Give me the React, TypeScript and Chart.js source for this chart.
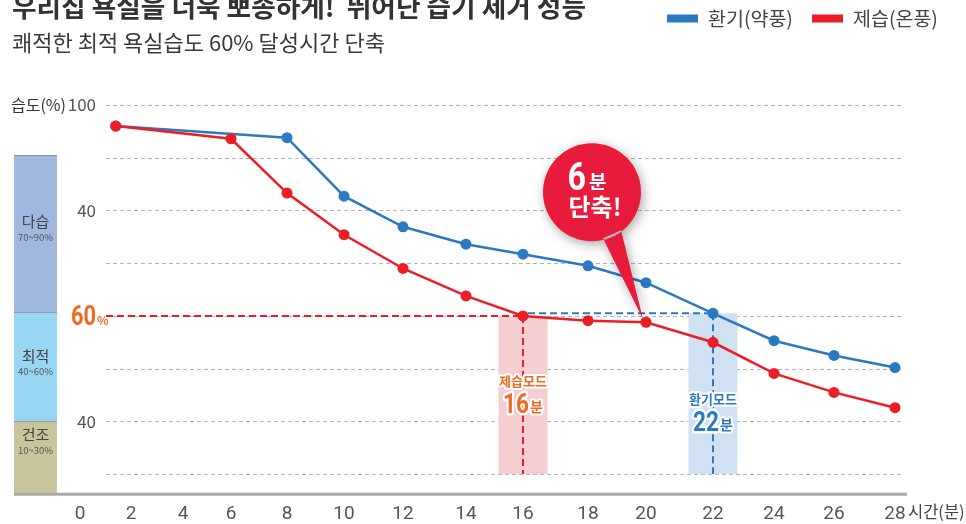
import React, { useEffect, useRef } from 'react';
import { Chart, registerables, LinearScale } from 'chart.js';

// ---------- data ----------
const seriesLabels = ['환기(약풍)', '제습(온풍)'];
const minutesBlue = [1.4, 8, 10, 12, 14, 16, 18, 20, 22, 24, 26, 28];
const humidityBlue = [96.0, 93.8, 82.7, 76.9, 73.6, 71.7, 69.5, 66.3, 60.5, 55.3, 52.5, 50.2];
const minutesRed = [1.4, 6, 8, 10, 12, 14, 16, 18, 20, 22, 24, 26, 28];
const humidityRed = [96.0, 93.6, 83.3, 75.4, 69.0, 63.8, 60.0, 59.1, 58.8, 55.0, 49.1, 45.5, 42.6];

const xTickValues = [0, 2, 4, 6, 8, 10, 12, 14, 16, 18, 20, 22, 24, 26, 28];
const yGridValues = [100, 90, 80, 70, 60, 50, 40, 30];
const yLabelValues = [100, 80, 40];
const yLabelTexts = ['100', '40', '40'];
const targetHumidity = 60;
const boxBottomValue = 30;
const yMin = 26;
const yMax = 100;

const bandNames = ['다습', '최적', '건조'];
const bandRanges = ['70~90%', '40~60%', '10~30%'];
const bandTops = [90.5, 60.7, 40];
const bandBottoms = [60.7, 40, 26];

const redModeMinute = 16;
const blueModeMinute = 22;
const savedMinutes = blueModeMinute - redModeMinute;

const titleText = '우리집 욕실을 너욱 뽀송하게!  뛰어난 습기 제거 성능';
const subtitleText = '쾌적한 최적 욕실습도 60% 달성시간 단축';
const yAxisTitle = '습도(%)';
const xAxisTitle = '시간(분)';

// ---------- styles / layout ----------
const BLUE = '#2b79c2';
const RED = '#ec1d26';
const ORANGE = '#f26a21';
const BUBBLE = '#e91b3c';
const KR = '"Noto Sans CJK KR", "Noto Sans", sans-serif';
const NUM = 'Roboto, "Noto Sans", sans-serif';
const bandColors = ['#a0b7e0', '#98d7f4', '#c8c49c'];
const bandLabelOffsets = [-12, -11, -24];

// non-uniform time axis: pixel position of each tick in the reference layout
const AXIS_REF_LEFT = 14;
const AXIS_REF_RIGHT = 906;
const X_AXIS_PIXELS = [80, 131, 183, 231, 287, 344, 403, 466, 523, 588, 646, 713, 774, 834, 895];
const X_AXIS_FRACS = X_AXIS_PIXELS.map((p) => (p - AXIS_REF_LEFT) / (AXIS_REF_RIGHT - AXIS_REF_LEFT));

class WarpScale extends LinearScale {
  static id = 'warp';
  warpFrac(v: number) {
    const V = xTickValues;
    const F = X_AXIS_FRACS;
    let i = 0;
    if (v >= V[V.length - 1]) i = V.length - 2;
    else if (v > V[0]) {
      while (v > V[i + 1]) i++;
    }
    return F[i] + ((v - V[i]) * (F[i + 1] - F[i])) / (V[i + 1] - V[i]);
  }
  getPixelForValue(value: any) {
    if (value === null || value === undefined || isNaN(value)) return NaN;
    return (this as any).getPixelForDecimal(this.warpFrac(+value));
  }
  getValueForPixel(pixel: number) {
    const d = (this as any).getDecimalForPixel(pixel);
    const V = xTickValues;
    const F = X_AXIS_FRACS;
    let i = 0;
    if (d >= F[F.length - 1]) i = F.length - 2;
    else if (d > F[0]) {
      while (d > F[i + 1]) i++;
    }
    return V[i] + ((d - F[i]) * (V[i + 1] - V[i])) / (F[i + 1] - F[i]);
  }
}

Chart.register(...registerables, WarpScale as any);

// text drawn with a horizontal squeeze (condensed numerals); returns drawn width
function condensed(
  ctx: CanvasRenderingContext2D,
  text: string,
  x: number,
  y: number,
  font: string,
  sx: number,
  halo = false
) {
  ctx.save();
  ctx.font = font;
  ctx.textAlign = 'left';
  const w = ctx.measureText(text).width * sx;
  ctx.translate(x, y);
  ctx.scale(sx, 1);
  if (halo) {
    ctx.save();
    ctx.lineJoin = 'round';
    ctx.lineWidth = 4 / sx;
    ctx.strokeStyle = '#ffffff';
    ctx.strokeText(text, 0, 0);
    ctx.restore();
  }
  ctx.fillText(text, 0, 0);
  ctx.restore();
  return w;
}

function haloText(ctx: CanvasRenderingContext2D, text: string, x: number, y: number) {
  ctx.save();
  ctx.lineJoin = 'round';
  ctx.lineWidth = 4;
  ctx.strokeStyle = '#ffffff';
  ctx.strokeText(text, x, y);
  ctx.restore();
  ctx.fillText(text, x, y);
}

function modeLabel(
  ctx: CanvasRenderingContext2D,
  cx: number,
  topY: number,
  color: string,
  name: string,
  minutes: number
) {
  ctx.save();
  ctx.fillStyle = color;
  ctx.textBaseline = 'alphabetic';
  ctx.textAlign = 'center';
  ctx.font = `700 13px ${KR}`;
  haloText(ctx, name, cx, topY);
  const num = String(minutes);
  const numFont = `700 27px ${NUM}`;
  ctx.font = numFont;
  const w1 = ctx.measureText(num).width * 0.84;
  ctx.font = `700 14px ${KR}`;
  const w2 = ctx.measureText('분').width;
  const start = cx - (w1 + w2 + 1) / 2;
  condensed(ctx, num, start, topY + 27, numFont, 0.84, true);
  ctx.textAlign = 'left';
  ctx.font = `700 14px ${KR}`;
  haloText(ctx, '분', start + w1 + 1, topY + 26);
  ctx.restore();
}

const decorPlugin = {
  id: 'decor',
  beforeDatasetsDraw(chart: any) {
    const { ctx } = chart;
    const x = chart.scales.x;
    const y = chart.scales.y;
    ctx.save();

    // humidity bands on the left
    const bx0 = 14;
    const bx1 = 57;
    bandNames.forEach((name, i) => {
      const t = y.getPixelForValue(bandTops[i]);
      const b = y.getPixelForValue(bandBottoms[i]);
      ctx.fillStyle = bandColors[i];
      ctx.fillRect(bx0, t, bx1 - bx0, b - t);
      ctx.strokeStyle = 'rgba(110,110,110,0.55)';
      ctx.lineWidth = 1;
      ctx.beginPath();
      ctx.moveTo(bx0, Math.round(t) + 0.5);
      ctx.lineTo(bx1, Math.round(t) + 0.5);
      ctx.stroke();
      const mid = (t + b) / 2 + bandLabelOffsets[i];
      ctx.fillStyle = '#444';
      ctx.textAlign = 'center';
      ctx.textBaseline = 'middle';
      ctx.font = `400 15px ${KR}`;
      ctx.fillText(name, (bx0 + bx1) / 2, mid);
      ctx.fillStyle = '#555';
      ctx.font = `400 9.5px ${KR}`;
      ctx.fillText(bandRanges[i], (bx0 + bx1) / 2, mid + 16);
    });

    // dashed horizontal grid
    ctx.setLineDash([4, 3]);
    ctx.strokeStyle = '#b3b3b3';
    ctx.lineWidth = 1;
    yGridValues.forEach((v) => {
      const py = Math.round(y.getPixelForValue(v)) + 0.5;
      ctx.beginPath();
      ctx.moveTo(106, py);
      ctx.lineTo(903, py);
      ctx.stroke();
    });
    ctx.setLineDash([]);

    const redIdx = minutesRed.indexOf(redModeMinute);
    const blueIdx = minutesBlue.indexOf(blueModeMinute);
    const rx = x.getPixelForValue(redModeMinute);
    const ry = y.getPixelForValue(humidityRed[redIdx]);
    const bxp = x.getPixelForValue(blueModeMinute);
    const byp = y.getPixelForValue(humidityBlue[blueIdx]);
    const boxBottom = y.getPixelForValue(boxBottomValue);
    const half = 24.5;

    // shaded boxes
    ctx.fillStyle = '#f5ced1';
    ctx.fillRect(rx - half, ry, half * 2, boxBottom - ry);
    ctx.fillStyle = '#d0e1f2';
    ctx.fillRect(bxp - half, byp, half * 2, boxBottom - byp);

    // dashed guide lines
    ctx.lineWidth = 2;
    ctx.setLineDash([7, 4]);
    ctx.strokeStyle = RED;
    const ty = y.getPixelForValue(targetHumidity);
    ctx.beginPath();
    ctx.moveTo(106, ty);
    ctx.lineTo(rx, ty);
    ctx.stroke();
    ctx.beginPath();
    ctx.moveTo(rx, ry);
    ctx.lineTo(rx, boxBottom);
    ctx.stroke();
    ctx.strokeStyle = BLUE;
    ctx.beginPath();
    ctx.moveTo(rx + 5, byp);
    ctx.lineTo(bxp, byp);
    ctx.stroke();
    ctx.beginPath();
    ctx.moveTo(bxp, byp);
    ctx.lineTo(bxp, boxBottom);
    ctx.stroke();
    ctx.setLineDash([]);

    // bottom axis line
    const ay = y.getPixelForValue(yMin) - 1;
    ctx.strokeStyle = '#a9a9a9';
    ctx.lineWidth = 3;
    ctx.beginPath();
    ctx.moveTo(14, ay);
    ctx.lineTo(907, ay);
    ctx.stroke();

    ctx.restore();
  },
  afterDatasetsDraw(chart: any) {
    const { ctx } = chart;
    const x = chart.scales.x;
    const y = chart.scales.y;
    const rx = x.getPixelForValue(redModeMinute);
    const bxp = x.getPixelForValue(blueModeMinute);

    modeLabel(ctx, rx, 386, ORANGE, '제습모드', redModeMinute);
    modeLabel(ctx, bxp, 404, BLUE, '환기모드', blueModeMinute);

    // callout bubble pointing at the red point at 20 min
    const idx20 = minutesRed.indexOf(20);
    const tipX = x.getPixelForValue(20) - 3;
    const tipY = y.getPixelForValue(humidityRed[idx20]) - 3;
    const cx = tipX - 51;
    const cy = tipY - 127;
    const r = 49;
    ctx.save();
    ctx.shadowColor = 'rgba(0,0,0,0.35)';
    ctx.shadowBlur = 12;
    ctx.shadowOffsetX = 2;
    ctx.shadowOffsetY = 3;
    ctx.fillStyle = BUBBLE;
    ctx.beginPath();
    ctx.arc(cx, cy, r, 0, Math.PI * 2);
    ctx.moveTo(cx + 11, cy + 46);
    ctx.lineTo(tipX, tipY);
    ctx.lineTo(cx + 29, cy + 38);
    ctx.closePath();
    ctx.fill();
    ctx.restore();

    ctx.save();
    ctx.fillStyle = '#ffffff';
    ctx.textBaseline = 'alphabetic';
    const num = String(savedMinutes);
    const numFont = `700 38px ${NUM}`;
    ctx.font = numFont;
    const w1 = ctx.measureText(num).width * 0.85;
    ctx.font = `700 19px ${KR}`;
    const w2 = ctx.measureText('분').width;
    const start = cx - 5 - (w1 + w2 + 3) / 2;
    condensed(ctx, num, start, cy - 2, numFont, 0.85);
    ctx.textAlign = 'left';
    ctx.font = `700 19px ${KR}`;
    ctx.fillText('분', start + w1 + 3, cy - 3);
    ctx.textAlign = 'center';
    ctx.font = `700 24px ${KR}`;
    ctx.fillText('단축!', cx + 3, cy + 24);
    ctx.restore();
  },
  afterDraw(chart: any) {
    const { ctx } = chart;
    const x = chart.scales.x;
    const y = chart.scales.y;
    ctx.save();
    ctx.textAlign = 'left';
    ctx.textBaseline = 'alphabetic';

    // titles
    ctx.fillStyle = '#333';
    ctx.font = `700 26.7px ${KR}`;
    ctx.fillText(titleText, 12, 17);
    ctx.fillStyle = '#3a3a3a';
    ctx.font = `400 22px ${KR}`;
    ctx.fillText(subtitleText, 12, 51);

    // legend
    const legendColors = [BLUE, RED];
    const legendX = [667, 812];
    ctx.font = `400 19.5px ${KR}`;
    ctx.textBaseline = 'middle';
    seriesLabels.forEach((lab, i) => {
      ctx.fillStyle = legendColors[i];
      ctx.fillRect(legendX[i], 14.5, 31, 8);
      ctx.fillStyle = '#444';
      ctx.fillText(lab, legendX[i] + 41, 19);
    });

    // y labels
    ctx.fillStyle = '#333';
    ctx.font = `400 16px ${KR}`;
    ctx.fillText(yAxisTitle, 11, y.getPixelForValue(yMax));
    ctx.textAlign = 'right';
    ctx.fillStyle = '#555';
    ctx.font = `400 17px ${KR}`;
    yLabelValues.forEach((v, i) => {
      ctx.fillText(yLabelTexts[i], 96, y.getPixelForValue(v));
    });

    // 60% label
    ctx.textBaseline = 'alphabetic';
    ctx.fillStyle = ORANGE;
    const ty = y.getPixelForValue(targetHumidity);
    const tw = condensed(ctx, String(targetHumidity), 71, ty + 9, `700 28px ${NUM}`, 0.78);
    ctx.textAlign = 'left';
    ctx.font = `700 12px ${KR}`;
    ctx.fillText('%', 72 + tw, ty + 9);

    // x axis title
    ctx.fillStyle = '#444';
    ctx.textBaseline = 'middle';
    ctx.font = `400 16.5px ${KR}`;
    ctx.fillText(xAxisTitle, x.getPixelForValue(28) + 13, 512);
    ctx.restore();
  },
};

export default function App() {
  const canvasRef = useRef<HTMLCanvasElement | null>(null);

  useEffect(() => {
    if (!canvasRef.current) return;
    const chart = new Chart(canvasRef.current, {
      type: 'line',
      data: {
        datasets: [
          {
            label: seriesLabels[0],
            data: minutesBlue.map((m, i) => ({ x: m, y: humidityBlue[i] })),
            borderColor: BLUE,
            backgroundColor: BLUE,
            pointBackgroundColor: BLUE,
            pointBorderWidth: 0,
            pointRadius: 5.5,
            borderWidth: 2.5,
            tension: 0,
            order: 1,
          },
          {
            label: seriesLabels[1],
            data: minutesRed.map((m, i) => ({ x: m, y: humidityRed[i] })),
            borderColor: RED,
            backgroundColor: RED,
            pointBackgroundColor: RED,
            pointBorderWidth: 0,
            pointRadius: 5.5,
            borderWidth: 2.5,
            tension: 0,
            order: 0,
          },
        ],
      },
      options: {
        animation: false,
        responsive: false,
        devicePixelRatio: 1,
        layout: { padding: { left: 14, right: 60, top: 105, bottom: -10 } },
        plugins: {
          legend: { display: false },
          tooltip: { enabled: false },
          title: { display: false },
        },
        scales: {
          x: {
            type: 'warp' as any,
            min: 0,
            max: 28,
            grid: { display: false, drawTicks: false },
            border: { display: false },
            ticks: {
              stepSize: 2,
              autoSkip: false,
              maxRotation: 0,
              padding: 8,
              color: '#555',
              font: { family: NUM, size: 19 },
            },
          },
          y: {
            type: 'linear',
            display: false,
            min: yMin,
            max: yMax,
          },
        },
      },
      plugins: [decorPlugin],
    } as any);
    return () => chart.destroy();
  }, []);

  return (
    <div style={{ position: 'fixed', left: 0, top: 0, width: 966, height: 524, background: '#fff' }}>
      <canvas ref={canvasRef} width={966} height={524} style={{ width: 966, height: 524 }} />
    </div>
  );
}
